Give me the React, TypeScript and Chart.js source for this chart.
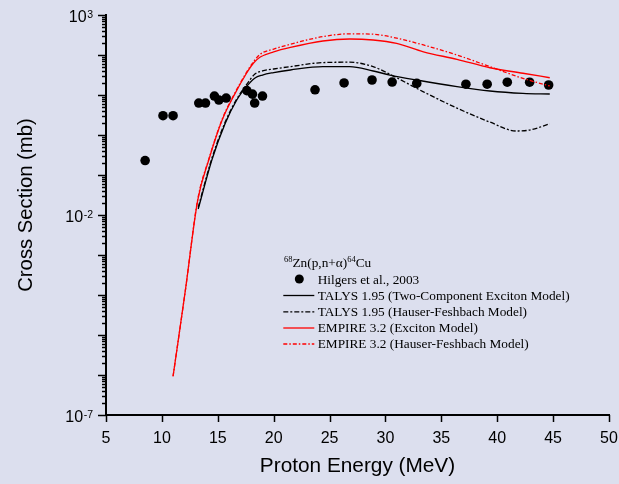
import React, { useEffect, useRef } from 'react';
import { Chart, registerables } from 'chart.js';

Chart.register(...registerables);

// ---------- data ----------
const reactionTitle = ['68', 'Zn(p,n+α)', '64', 'Cu'];
const seriesLabels = [
  'Hilgers et al., 2003',
  'TALYS 1.95 (Two-Component Exciton Model)',
  'TALYS 1.95 (Hauser-Feshbach Model)',
  'EMPIRE 3.2 (Exciton Model)',
  'EMPIRE 3.2 (Hauser-Feshbach Model)',
];

const hilgersE = [8.5, 10.1, 11.0, 13.3, 13.9, 14.7, 15.1, 15.75, 17.6, 18.1, 18.3, 19.0, 23.7, 26.3, 28.8, 30.6, 32.8, 37.2, 39.1, 40.9, 42.9, 44.6];
const hilgersXS = [0.23, 3.04, 3.04, 6.3, 6.3, 9.4, 7.5, 8.4, 12.9, 10.5, 6.3, 9.4, 13.5, 20, 23.7, 21.1, 19.5, 18.6, 18.6, 20.9, 20.9, 17.8];

const talysTcE = [13.25, 14.47, 15.66, 16.7, 17.6, 18.3, 19.0, 20.0, 21.5, 24.4, 26.8, 28.9, 30.4, 32.8, 36.4, 39.35, 42.3, 44.7];
const talysTcXS = [0.0141, 0.237, 1.95, 7.5, 16.6, 26.3, 31.6, 36.3, 42.2, 51.3, 51.3, 39.8, 31.6, 23.7, 16.2, 12.6, 11.0, 10.6];

const talysHfE = [13.25, 14.47, 15.66, 16.7, 17.6, 18.3, 19.0, 20.0, 21.5, 24.4, 26.8, 28.9, 30.4, 33.4, 36.4, 39.35, 41.7, 42.9, 44.7];
const talysHfXS = [0.0155, 0.26, 2.1, 8.0, 18.6, 33, 40, 44.7, 51.3, 64.6, 66, 51.3, 33, 12, 4.7, 2.1, 1.26, 1.33, 1.9];

const empireExE = [11.0, 12.1, 13.2, 14.2, 15.4, 16.55, 17.6, 18.2, 18.8, 20.0, 21.5, 24.4, 26.8, 28.9, 31.0, 33.4, 36.4, 39.35, 42.3, 44.7];
const empireExXS = [9.3e-7, 1.3e-4, 0.023, 0.24, 2.4, 11, 36, 63, 89, 120, 155, 224, 251, 237, 195, 120, 78, 48, 35, 27];

const empireHfE = [11.0, 12.1, 13.2, 14.2, 15.4, 16.55, 17.6, 18.2, 18.8, 20.0, 21.5, 24.4, 26.8, 28.9, 31.0, 33.4, 36.4, 39.35, 42.3, 44.7];
const empireHfXS = [9.3e-7, 1.3e-4, 0.024, 0.25, 2.5, 11.5, 38, 68, 105, 141, 186, 288, 339, 331, 263, 178, 100, 51, 26, 16.8];

const xTickValues = [5, 10, 15, 20, 25, 30, 35, 40, 45, 50];
const yLabelExponents = [3, -2, -7];
const xMin = 5, xMax = 50;
const yMinExp = -7, yMaxExp = 3;
const xTitle = 'Proton Energy (MeV)';
const yTitle = 'Cross Section (mb)';

// ---------- styling ----------
const BG = '#dcdfee';
const SANS = '"Liberation Sans", Arial, sans-serif';
const SERIF = '"Liberation Serif", "Times New Roman", serif';

const pts = (xs: number[], ys: number[]) => xs.map((x, i) => ({ x, y: ys[i] }));

const decorPlugin = {
  id: 'decor',
  afterDraw(chart: any) {
    const ctx = chart.ctx as CanvasRenderingContext2D;
    const xs = chart.scales.x;
    const ys = chart.scales.y;
    const a = chart.chartArea;
    ctx.save();
    ctx.strokeStyle = '#000';
    ctx.fillStyle = '#000';
    ctx.lineWidth = 1.5;
    ctx.setLineDash([]);
    // x ticks
    for (const t of xs.ticks) {
      const px = Math.round(xs.getPixelForValue(t.value)) + 0.5;
      ctx.beginPath();
      ctx.moveTo(px, a.bottom);
      ctx.lineTo(px, a.bottom + 7);
      ctx.stroke();
    }
    // y ticks
    for (const t of ys.ticks) {
      const py = Math.round(ys.getPixelForValue(t.value)) + 0.5;
      const lg = Math.log10(t.value);
      const major = Math.abs(lg - Math.round(lg)) < 1e-9;
      const len = major ? 8 : 4;
      ctx.beginPath();
      ctx.moveTo(a.left - len, py);
      ctx.lineTo(a.left, py);
      ctx.stroke();
    }
    // y labels 10^n
    for (const e of yLabelExponents) {
      const py = ys.getPixelForValue(Math.pow(10, e));
      const expStr = String(e);
      ctx.font = '10.5px ' + SANS;
      const ew = ctx.measureText(expStr).width;
      const right = 93;
      ctx.textAlign = 'left';
      ctx.textBaseline = 'alphabetic';
      ctx.fillText(expStr, right - ew, py + 2.5);
      ctx.font = '16px ' + SANS;
      ctx.textAlign = 'right';
      ctx.fillText('10', right - ew - 0.5, py + 6.5);
    }
    // axis titles
    ctx.font = '20.8px ' + SANS;
    ctx.textAlign = 'center';
    ctx.textBaseline = 'alphabetic';
    ctx.fillText(xTitle, (a.left + a.right) / 2, 472);
    ctx.save();
    ctx.translate(31.5, (a.top + a.bottom) / 2 - 10);
    ctx.rotate(-Math.PI / 2);
    ctx.font = '20.3px ' + SANS;
    ctx.fillText(yTitle, 0, 0);
    ctx.restore();

    // legend
    let lx = 284;
    const titleBase = 266.5;
    ctx.textAlign = 'left';
    ctx.textBaseline = 'alphabetic';
    ctx.font = '8.5px ' + SERIF;
    ctx.fillText(reactionTitle[0], lx, titleBase - 5);
    lx += ctx.measureText(reactionTitle[0]).width;
    ctx.font = '13.3px ' + SERIF;
    ctx.fillText(reactionTitle[1], lx, titleBase);
    lx += ctx.measureText(reactionTitle[1]).width;
    ctx.font = '8.5px ' + SERIF;
    ctx.fillText(reactionTitle[2], lx, titleBase - 5);
    lx += ctx.measureText(reactionTitle[2]).width;
    ctx.font = '13.3px ' + SERIF;
    ctx.fillText(reactionTitle[3], lx, titleBase);

    const rows = [279, 295, 311.3, 327.5, 343.5];
    const styles = [
      null,
      { c: '#000', d: [] as number[] },
      { c: '#000', d: [5, 2, 2, 2] },
      { c: '#ff0000', d: [] as number[] },
      { c: '#ff0000', d: [4, 2, 1.5, 2] },
    ];
    for (let i = 0; i < seriesLabels.length; i++) {
      const cy = rows[i];
      const st = styles[i];
      if (!st) {
        ctx.beginPath();
        ctx.arc(299.3, cy, 4.5, 0, Math.PI * 2);
        ctx.fillStyle = '#000';
        ctx.fill();
      } else {
        ctx.beginPath();
        ctx.strokeStyle = st.c;
        ctx.lineWidth = 1.3;
        ctx.setLineDash(st.d);
        ctx.moveTo(283.3, cy + 0.5);
        ctx.lineTo(314.3, cy + 0.5);
        ctx.stroke();
        ctx.setLineDash([]);
      }
      ctx.fillStyle = '#000';
      ctx.font = '13.3px ' + SERIF;
      ctx.fillText(seriesLabels[i], 317.7, cy + 4.5);
    }
    ctx.restore();
  },
};

export default function App() {
  const ref = useRef<HTMLCanvasElement | null>(null);
  useEffect(() => {
    if (!ref.current) return;
    const lineBase = {
      type: 'line' as const,
      pointRadius: 0,
      pointHoverRadius: 0,
      borderWidth: 1.3,
      fill: false,
      cubicInterpolationMode: 'monotone' as const,
    };
    const chart = new Chart(ref.current, {
      type: 'line',
      data: {
        datasets: [
          {
            type: 'scatter',
            label: seriesLabels[0],
            data: pts(hilgersE, hilgersXS),
            showLine: false,
            pointRadius: 4.8,
            pointHoverRadius: 4.8,
            pointBackgroundColor: '#000',
            pointBorderWidth: 0,
            backgroundColor: '#000',
            borderColor: '#000',
            order: 10,
          } as any,
          { ...lineBase, label: seriesLabels[1], data: pts(talysTcE, talysTcXS), borderColor: '#000', order: 4 },
          { ...lineBase, label: seriesLabels[2], data: pts(talysHfE, talysHfXS), borderColor: '#000', borderDash: [5, 2, 2, 2], order: 3 },
          { ...lineBase, label: seriesLabels[3], data: pts(empireExE, empireExXS), borderColor: '#ff0000', order: 2 },
          { ...lineBase, label: seriesLabels[4], data: pts(empireHfE, empireHfXS), borderColor: '#ff0000', borderDash: [4, 2, 1.5, 2], order: 1 },
        ],
      },
      options: {
        responsive: false,
        animation: false,
        devicePixelRatio: 1,
        layout: { padding: { top: 15, right: 0, left: 0, bottom: 0 } },
        plugins: { legend: { display: false }, tooltip: { enabled: false }, title: { display: false } },
        events: [],
        scales: {
          x: {
            type: 'linear',
            min: xMin,
            max: xMax,
            afterBuildTicks: (s: any) => {
              s.ticks = xTickValues.map((v) => ({ value: v }));
            },
            afterFit: (s: any) => {
              s.height = 69;
              s.paddingRight = 10;
            },
            ticks: {
              autoSkip: false,
              maxRotation: 0,
              padding: 6,
              color: '#000',
              font: { family: SANS, size: 16 },
            },
            grid: { display: false },
            border: { display: true, color: '#000', width: 2 },
          },
          y: {
            type: 'logarithmic',
            min: Math.pow(10, yMinExp),
            max: Math.pow(10, yMaxExp),
            afterBuildTicks: (s: any) => {
              const t: { value: number }[] = [];
              for (let e = yMinExp; e < yMaxExp; e++) {
                for (let m = 1; m <= 9; m++) t.push({ value: m * Math.pow(10, e) });
              }
              t.push({ value: Math.pow(10, yMaxExp) });
              s.ticks = t;
            },
            afterFit: (s: any) => {
              s.width = 106;
            },
            ticks: { callback: () => '', autoSkip: false },
            grid: { display: false },
            border: { display: true, color: '#000', width: 2 },
          },
        },
      } as any,
      plugins: [decorPlugin],
    });
    return () => chart.destroy();
  }, []);
  return (
    <div style={{ position: 'absolute', left: 0, top: 0, width: 619, height: 484, background: BG }}>
      <canvas ref={ref} width={619} height={484} style={{ display: 'block' }} />
    </div>
  );
}
